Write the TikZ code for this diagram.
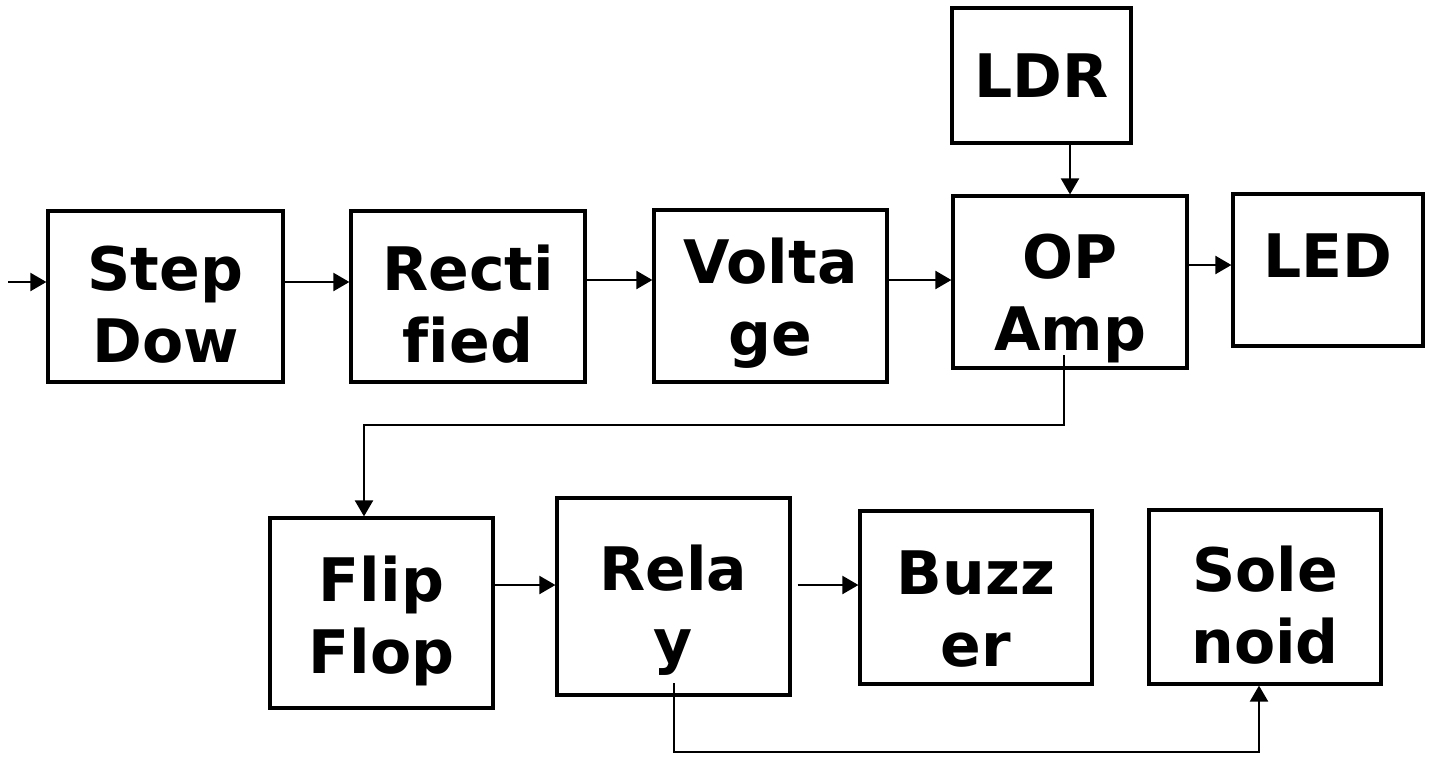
\documentclass[tikz,border=0pt]{standalone}
\usepackage{fontspec}
\setmainfont{DejaVu Sans}[Ligatures=NoCommon]
\usetikzlibrary{arrows.meta}
\begin{document}
\begin{tikzpicture}[x=0.5pt,y=-0.5pt,
  blk/.style={draw, line width=1.6pt, inner sep=0pt},
  lbl/.style={font=\fontsize{30}{36}\selectfont\bfseries, align=center, inner sep=0pt, anchor=base},
  conn/.style={line width=1.1pt, -{Triangle[length=8pt,width=9pt]}}]
\useasboundingbox (0,0) rectangle (1431,756);

% blocks (centre in px, size in pt)
\node[blk, minimum width=89.5pt,  minimum height=67.5pt] (ldr)    at (1041.5,75.5) {};
\node[blk, minimum width=117.5pt, minimum height=85.5pt] (step)   at (165.5,296.5) {};
\node[blk, minimum width=117pt,   minimum height=85.5pt] (rect)   at (468,296.5)   {};
\node[blk, minimum width=116.5pt, minimum height=86pt]   (volt)   at (770.5,296)   {};
\node[blk, minimum width=117pt,   minimum height=86pt]   (opamp)  at (1070,282)    {};
\node[blk, minimum width=95pt,    minimum height=76pt]   (led)    at (1328,270)    {};
\node[blk, minimum width=111.5pt, minimum height=95pt]   (flip)   at (381.5,613)   {};
\node[blk, minimum width=116.5pt, minimum height=98.5pt] (relay)  at (673.5,596.5) {};
\node[blk, minimum width=116pt,   minimum height=86.5pt] (buzz)   at (976,597.5)   {};
\node[blk, minimum width=116pt,   minimum height=87pt]   (sol)    at (1265,597)    {};

% labels (anchored at the baseline of the last line)
\node[lbl] (ldrtxt)   at (1041.5,97) {LDR};
\node[lbl] (steptxt)  at (165.5,362) {Step\\Dow};
\node[lbl] (recttxt)  at (468,362)   {Recti\\fied};
\node[lbl] (volttxt)  at (770.5,355) {Volta\\ge};
\node[lbl] (optxt)    at (1070,350)  {OP\\Amp};
\node[lbl] (ledtxt)   at (1328,277)  {LED};
\node[lbl] (fliptxt)  at (381.5,673) {Flip\\Flop};
\node[lbl] (relaytxt) at (673.5,662) {Rela\\y};
\node[lbl] (buzztxt)  at (976,666)   {Buzz\\er};
\node[lbl] (soltxt)   at (1265,663)  {Sole\\noid};

% signal path
\coordinate (src) at (8,282);
\coordinate (row2) at (0,280);
\coordinate (row3) at (0,265);
\coordinate (row4) at (0,585);
\coordinate (tap1) at (1064,355);
\coordinate (bend1) at (364,425);
\coordinate (tap2) at (674,683);
\coordinate (bend2) at (1259,752);

\draw[conn] (src) -- (src -| step.west);
\draw[conn] (src -| step.east) -- (src -| rect.west);
\draw[conn] (row2 -| rect.east) -- (row2 -| volt.west);
\draw[conn] (row2 -| volt.east) -- (row2 -| opamp.west);
\draw[conn] (row3 -| opamp.east) -- (row3 -| led.west);
\draw[conn] (opamp.north |- ldr.south) -- (opamp.north);
\draw[conn] (tap1) |- (bend1) -- (bend1 |- flip.north);
\draw[conn] (row4 -| flip.east) -- (row4 -| relay.west);
\draw[conn] ([xshift=3pt]relay.east |- row4) -- (buzz.west |- row4);
\draw[conn] (tap2) |- (bend2) -- (bend2 |- sol.south);
\end{tikzpicture}
\end{document}
